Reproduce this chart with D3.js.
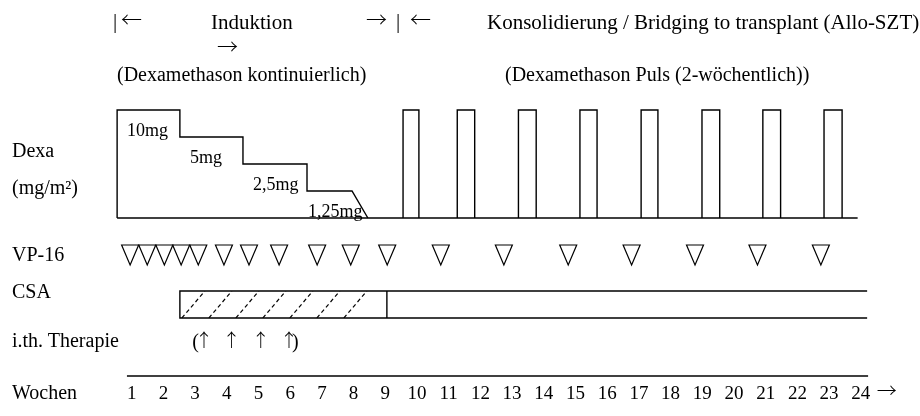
<!DOCTYPE html>
<html>
<head>
<meta charset="utf-8">
<script src="https://cdn.jsdelivr.net/npm/d3@7"></script>
<style>
  body { margin: 0; background: #fff; }
  svg { filter: grayscale(100%); }
  svg text { font-family: "Liberation Serif", "Times New Roman", serif; fill: #000; }
  svg text.arr { font-family: "Noto Sans CJK SC", "DejaVu Sans", sans-serif; font-weight: 300; }
</style>
</head>
<body>
<script>
// week ticks
var weekLabels = ["1", "2", "3", "4", "5", "6", "7", "8", "9", "10", "11", "12",
  "13", "14", "15", "16", "17", "18", "19", "20", "21", "22", "23", "24"];

// Dexa induction steps (start/end in weeks, level 4 = 10mg ... 1 = 1,25mg)
var dexaStart = [0.54, 2.52, 4.51, 6.53];
var dexaEnd = [2.52, 4.51, 6.53, 7.95];
var dexaLevel = [4, 3, 2, 1];
var dexaLabel = ["10mg", "5mg", "2,5mg", "1,25mg"];
var dexaTaperEnd = 8.45;
var dexaLineEnd = 23.9;

// Dexa pulses in consolidation
var pulseStart = [9.56, 11.27, 13.2, 15.14, 17.07, 18.99, 20.91, 22.84];
var pulseEnd = [10.06, 11.82, 13.76, 15.68, 17.6, 19.55, 21.47, 23.41];
var pulseLevel = 4;

// VP-16 doses (week positions)
var vp16Weeks = [0.95, 1.49, 2.03, 2.56, 3.1, 3.91, 4.7, 5.65, 6.85, 7.91, 9.06,
  10.75, 12.74, 14.77, 16.77, 18.77, 20.74, 22.74];

// CSA bar
var csaStart = 2.52, csaSwitch = 9.05, csaEnd = 24.2;

// intrathecal therapy
var ithWeeks = [3.28, 4.15, 5.07, 5.96];

var rowLabels = [
  { text: "Dexa", y: 157 },
  { text: "(mg/m²)", y: 194 },
  { text: "VP-16", y: 261 },
  { text: "CSA", y: 298 },
  { text: "i.th. Therapie", y: 347 },
  { text: "Wochen", y: 399 }
];

var width = 920, height = 416;

var svg = d3.select("body").append("svg")
  .attr("width", width)
  .attr("height", height);

var x = d3.scaleLinear().domain([1, 24]).range([131.7, 860.8]);
var yDexa = d3.scaleLinear().domain([0, 4]).range([218, 110]);

// header
var header = svg.append("g").style("font-size", "21px");
header.append("text").attr("x", 113).attr("y", 28).text("|");
header.append("text").attr("class", "arr").attr("x", 121).attr("y", 27).text("←");
header.append("text").attr("x", 211).attr("y", 29).text("Induktion");
header.append("text").attr("class", "arr").attr("x", 366).attr("y", 27).text("→");
header.append("text").attr("x", 396).attr("y", 28).text("|");
header.append("text").attr("class", "arr").attr("x", 410).attr("y", 27).text("←");
header.append("text").attr("x", 487).attr("y", 29)
  .text("Konsolidierung / Bridging to transplant (Allo-SZT)");
header.append("text").attr("class", "arr").attr("x", 217).attr("y", 54).text("→");

svg.append("text").attr("x", 117).attr("y", 81).style("font-size", "20px")
  .text("(Dexamethason kontinuierlich)");
svg.append("text").attr("x", 505).attr("y", 81).style("font-size", "20px")
  .text("(Dexamethason Puls (2-wöchentlich))");

// row labels
svg.selectAll(".rowlabel")
  .data(rowLabels)
  .enter()
  .append("text")
  .attr("class", "rowlabel")
  .attr("x", 12)
  .attr("y", function(d) { return d.y; })
  .style("font-size", "20px")
  .text(function(d) { return d.text; });

// Dexa steps
var steps = dexaLevel.map(function(l, i) {
  return { start: dexaStart[i], end: dexaEnd[i], level: l, label: dexaLabel[i] };
});
var stepPts = [{ w: steps[0].start, v: 0 }];
steps.forEach(function(s) {
  stepPts.push({ w: s.start, v: s.level });
  stepPts.push({ w: s.end, v: s.level });
});
stepPts.push({ w: dexaTaperEnd, v: 0 });

var line = d3.line()
  .x(function(d) { return x(d.w); })
  .y(function(d) { return yDexa(d.v); });

svg.append("path")
  .attr("d", line(stepPts))
  .attr("fill", "none")
  .attr("stroke", "#000")
  .attr("stroke-width", 1.4);

svg.append("line")
  .attr("x1", x(steps[0].start)).attr("x2", x(dexaLineEnd))
  .attr("y1", yDexa(0)).attr("y2", yDexa(0))
  .attr("stroke", "#000")
  .attr("stroke-width", 1.4);

svg.selectAll(".mg")
  .data(steps)
  .enter()
  .append("text")
  .attr("class", "mg")
  .attr("x", function(d, i) { return x(d.start) + (i == 3 ? 1 : 10); })
  .attr("y", function(d) { return yDexa(d.level) + 26; })
  .style("font-size", "18px")
  .text(function(d) { return d.label; });

// pulses
svg.selectAll(".pulse")
  .data(pulseStart)
  .enter()
  .append("path")
  .attr("class", "pulse")
  .attr("d", function(d, i) {
    return "M" + x(d) + "," + yDexa(0) +
      "V" + yDexa(pulseLevel) +
      "H" + x(pulseEnd[i]) +
      "V" + yDexa(0);
  })
  .attr("fill", "none")
  .attr("stroke", "#000")
  .attr("stroke-width", 1.4);

// VP-16 triangles
var triTop = 245, triH = 20, triW = 17;
svg.selectAll(".vp")
  .data(vp16Weeks)
  .enter()
  .append("path")
  .attr("class", "vp")
  .attr("d", function(d) {
    var cx = x(d);
    return "M" + (cx - triW / 2) + "," + triTop +
      "L" + (cx + triW / 2) + "," + triTop +
      "L" + cx + "," + (triTop + triH) + "Z";
  })
  .attr("fill", "#fff")
  .attr("stroke", "#000")
  .attr("stroke-width", 1.2);

// CSA
var csaTop = 291, csaBot = 318;
svg.append("clipPath").attr("id", "csaclip")
  .append("rect")
  .attr("x", x(csaStart)).attr("y", csaTop)
  .attr("width", x(csaSwitch) - x(csaStart))
  .attr("height", csaBot - csaTop);

var hatch = d3.range(x(csaStart) + 2, x(csaSwitch) - 38, 27);
svg.append("g").attr("clip-path", "url(#csaclip)")
  .selectAll("line")
  .data(hatch)
  .enter()
  .append("line")
  .attr("x1", function(d) { return d; })
  .attr("y1", csaBot)
  .attr("x2", function(d) { return d + 23; })
  .attr("y2", csaTop)
  .attr("stroke", "#000")
  .attr("stroke-width", 1.2)
  .attr("stroke-dasharray", "4,3");

svg.append("path")
  .attr("d",
    "M" + x(csaEnd) + "," + csaTop + "H" + x(csaStart) + "V" + csaBot + "H" + x(csaEnd) +
    "M" + x(csaSwitch) + "," + csaTop + "V" + csaBot)
  .attr("fill", "none")
  .attr("stroke", "#000")
  .attr("stroke-width", 1.4);

// i.th. therapy arrows
var ith = svg.append("g").style("font-size", "20px");
ith.selectAll(".up")
  .data(ithWeeks)
  .enter()
  .append("text")
  .attr("class", "arr up")
  .attr("x", function(d) { return x(d); })
  .attr("y", 347)
  .attr("text-anchor", "middle")
  .style("font-size", "18px")
  .text("↑");
ith.append("text").attr("x", x(ithWeeks[0]) - 5).attr("y", 348)
  .attr("text-anchor", "end").text("(");
ith.append("text").attr("x", x(ithWeeks[3]) + 3).attr("y", 348).text(")");

// bottom rule and weeks
svg.append("line")
  .attr("x1", x(0.85)).attr("x2", x(24.23))
  .attr("y1", 376).attr("y2", 376)
  .attr("stroke", "#000")
  .attr("stroke-width", 1.4);

svg.selectAll(".wk")
  .data(weekLabels)
  .enter()
  .append("text")
  .attr("class", "wk")
  .attr("x", function(d) { return x(+d); })
  .attr("y", 399)
  .attr("text-anchor", "middle")
  .style("font-size", "19px")
  .text(function(d) { return d; });

svg.append("text")
  .attr("class", "arr")
  .attr("x", x(24) + 16).attr("y", 398)
  .style("font-size", "20px")
  .text("→");
</script>
</body>
</html>
